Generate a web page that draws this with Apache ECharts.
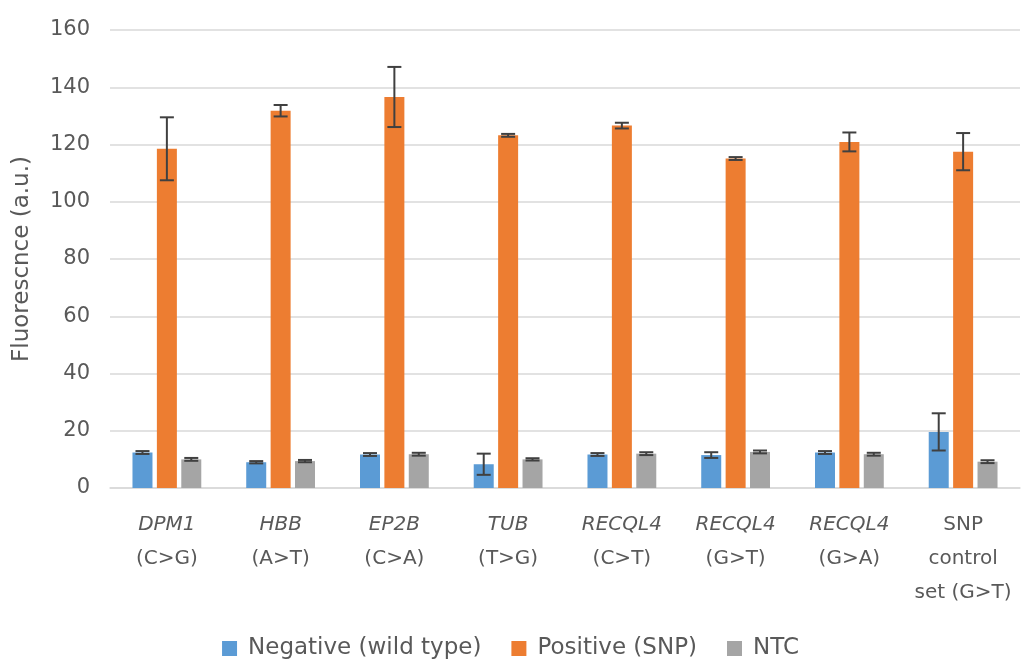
<!DOCTYPE html>
<html>
<head>
<meta charset="utf-8">
<script src="https://cdn.jsdelivr.net/npm/echarts@6/dist/echarts.min.js"></script>
<style>html,body{margin:0;padding:0;background:#fff}#c{width:1021px;height:667px}</style>
</head>
<body>
<div id="c"></div>
<script>
var genes = ['DPM1', 'HBB', 'EP2B', 'TUB', 'RECQL4', 'RECQL4', 'RECQL4', 'SNP\ncontrol'];
var mutations = ['(C>G)', '(A>T)', '(C>A)', '(T>G)', '(C>T)', '(G>T)', '(G>A)', 'set (G>T)'];
var italicGene = [true, true, true, true, true, true, true, false];
var seriesNames = ['Negative (wild type)', 'Positive (SNP)', 'NTC'];
var negative = [12.4, 9.0, 11.7, 8.3, 11.7, 11.5, 12.4, 19.6];
var positive = [118.5, 131.8, 136.6, 123.2, 126.6, 115.1, 120.9, 117.5];
var ntc = [10.0, 9.4, 11.8, 10.0, 12.0, 12.6, 11.8, 9.2];
var negativeErr = [0.5, 0.4, 0.5, 3.7, 0.5, 1.0, 0.5, 6.5];
var positiveErr = [11.0, 2.0, 10.5, 0.5, 1.0, 0.5, 3.3, 6.5];
var ntcErr = [0.5, 0.4, 0.5, 0.4, 0.5, 0.5, 0.5, 0.5];
var yTicks = [0, 20, 40, 60, 80, 100, 120, 140, 160];

var colors = ['#5B9BD5', '#ED7D31', '#A5A5A5'];
var BAR_W = 20, GAP_RATIO = 0.22;
var categories = genes.map(function (g, i) { return i; });

function errData(vals, errs) {
  return vals.map(function (v, i) { return [i, v - errs[i], v + errs[i]]; });
}

function errSeries(k, vals, errs) {
  return {
    type: 'custom',
    name: seriesNames[k] + ' err',
    z: 5,
    silent: true,
    encode: { x: 0, y: [1, 2] },
    data: errData(vals, errs),
    renderItem: function (params, api) {
      var step = BAR_W * (1 + GAP_RATIO);
      var off = (k - 1) * step;
      var lo = api.coord([api.value(0), api.value(1)]);
      var hi = api.coord([api.value(0), api.value(2)]);
      var x = lo[0] + off;
      var cap = 7;
      var st = { stroke: '#404040', lineWidth: 2 };
      return {
        type: 'group',
        children: [
          { type: 'line', shape: { x1: x, y1: lo[1], x2: x, y2: hi[1] }, style: st },
          { type: 'line', shape: { x1: x - cap, y1: lo[1], x2: x + cap, y2: lo[1] }, style: st },
          { type: 'line', shape: { x1: x - cap, y1: hi[1], x2: x + cap, y2: hi[1] }, style: st }
        ]
      };
    }
  };
}

var chart = echarts.init(document.getElementById('c'));
var font = 'DejaVu Sans';
chart.setOption({
  animation: false,
  color: colors,
  textStyle: { fontFamily: font },
  grid: { left: 110, right: 1, top: 30, bottom: 179, containLabel: false, outerBoundsMode: 'none' },
  legend: {
    data: seriesNames,
    bottom: 2,
    left: 'center',
    itemWidth: 15,
    itemHeight: 15,
    itemGap: 30,
    icon: 'rect',
    textStyle: { fontSize: 23, color: '#595959', fontFamily: font, padding: [0, 0, 0, 6] }
  },
  xAxis: {
    type: 'category',
    data: categories,
    axisLine: { show: true, lineStyle: { color: '#d9d9d9', width: 1.5 } },
    axisTick: { show: false },
    axisLabel: {
      interval: 0,
      margin: 20,
      color: '#595959',
      formatter: function (v) {
        var i = +v;
        var style = italicGene[i] ? 'i' : 'n';
        var g = genes[i].split('\n').map(function (s) { return '{' + style + '|' + s + '}'; }).join('\n');
        return g + '\n{n|' + mutations[i] + '}';
      },
      rich: {
        i: { fontStyle: 'italic', fontSize: 20, lineHeight: 34, color: '#595959', fontFamily: font },
        n: { fontSize: 20, lineHeight: 34, color: '#595959', fontFamily: font }
      }
    }
  },
  yAxis: {
    type: 'value',
    min: yTicks[0],
    max: yTicks[yTicks.length - 1],
    interval: yTicks[1] - yTicks[0],
    name: 'Fluorescnce (a.u.)',
    nameLocation: 'middle',
    nameGap: 76,
    nameTextStyle: { fontSize: 23, color: '#595959', fontFamily: font },
    axisLine: { show: false },
    axisTick: { show: false },
    splitLine: { lineStyle: { color: '#d9d9d9', width: 1.5 } },
    axisLabel: { fontSize: 21, color: '#595959', margin: 20, fontFamily: font }
  },
  series: [
    { type: 'bar', name: seriesNames[0], data: negative, barWidth: BAR_W, barGap: (GAP_RATIO * 100) + '%' },
    { type: 'bar', name: seriesNames[1], data: positive, barWidth: BAR_W, barGap: (GAP_RATIO * 100) + '%' },
    { type: 'bar', name: seriesNames[2], data: ntc, barWidth: BAR_W, barGap: (GAP_RATIO * 100) + '%' },
    errSeries(0, negative, negativeErr),
    errSeries(1, positive, positiveErr),
    errSeries(2, ntc, ntcErr)
  ]
});
</script>
</body>
</html>
